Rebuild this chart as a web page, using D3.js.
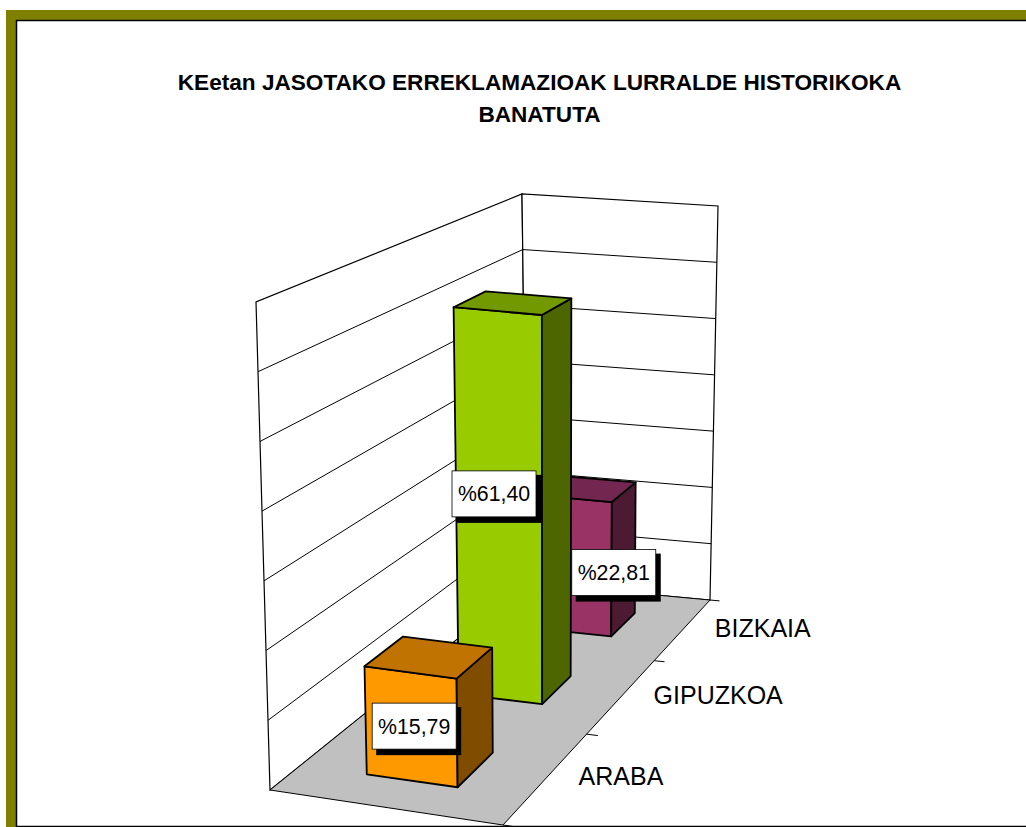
<!DOCTYPE html>
<html>
<head>
<meta charset="utf-8">
<script src="https://cdn.jsdelivr.net/npm/d3@7"></script>
<style>
html, body { margin: 0; padding: 0; background: #fff; overflow: hidden; }
text { font-family: "Liberation Sans", Arial, sans-serif; fill: #000; }
</style>
</head>
<body>
<div id="chart"></div>
<script>
const categories = ["ARABA", "GIPUZKOA", "BIZKAIA"];
const values = [15.79, 61.40, 22.81];
const frontColors = ["#ff9900", "#99cc00", "#993366"];
const topColors = ["#c07300", "#739900", "#732650"];
const sideColors = ["#804d00", "#4d6600", "#4d1a33"];
const titleLines = ["KEetan JASOTAKO ERREKLAMAZIOAK LURRALDE HISTORIKOKA", "BANATUTA"];
const valueTicks = [0, 10, 20, 30, 40, 50, 60, 70];

const width = 1026;
const height = 827;

// the box of the 3d chart as it lands on screen: a = front left, b = front right, c = back right, d = back left
const floorQuad = { a: [270, 790], b: [503, 825], c: [710, 600], d: [527, 583] };
const ceilQuad = { a: [256, 302], b: [503, 329], c: [718, 206], d: [522, 194] };

// unit square to quad, so depth shrinks like it does in the picture
function quadMap(q) {
  const dx1 = q.b[0] - q.c[0], dx2 = q.d[0] - q.c[0], sx = q.a[0] - q.b[0] + q.c[0] - q.d[0];
  const dy1 = q.b[1] - q.c[1], dy2 = q.d[1] - q.c[1], sy = q.a[1] - q.b[1] + q.c[1] - q.d[1];
  const det = dx1 * dy2 - dx2 * dy1;
  const g = (sx * dy2 - dx2 * sy) / det;
  const h = (dx1 * sy - sx * dy1) / det;
  const ma = q.b[0] - q.a[0] + g * q.b[0], mb = q.d[0] - q.a[0] + h * q.d[0];
  const md = q.b[1] - q.a[1] + g * q.b[1], me = q.d[1] - q.a[1] + h * q.d[1];
  return (u, v) => {
    const w = g * u + h * v + 1;
    return [(ma * u + mb * v + q.a[0]) / w, (md * u + me * v + q.a[1]) / w];
  };
}

const floorAt = quadMap(floorQuad);
const ceilAt = quadMap(ceilQuad);

const heightScale = d3.scaleLinear().domain([0, 70]).range([0, 1]);
const depthScale = d3.scaleBand().domain(categories).range([-0.008, 0.992]).paddingInner(0.61).paddingOuter(0.305);
const depthStep = d3.scaleBand().domain(categories).range([0, 1]);
const acrossScale = d3.scaleLinear().domain([0, 1]).range([0.30, 0.70]);

// u across, v depth, value up
function project(u, v, value) {
  const t = heightScale(value);
  const p = floorAt(u, v), q = ceilAt(u, v);
  return [p[0] + (q[0] - p[0]) * t, p[1] + (q[1] - p[1]) * t];
}

const line = d3.line();
const polygon = pts => line(pts) + "Z";

const svg = d3.select("#chart").append("svg")
  .attr("width", width)
  .attr("height", height)
  .style("display", "block");

// olive frame
svg.append("path")
  .attr("d", `M6,${height}V10H${width}V20H16V${height}Z`)
  .attr("fill", "#808000");
svg.append("path")
  .attr("d", `M16.5,${height}V20.5H${width}`)
  .attr("fill", "none")
  .attr("stroke", "#000")
  .attr("stroke-width", 1.5);
svg.append("line")
  .attr("x1", 16).attr("x2", width)
  .attr("y1", 826.5).attr("y2", 826.5)
  .attr("stroke", "#000")
  .attr("stroke-width", 1.5);

svg.append("g")
  .selectAll("text")
  .data(titleLines)
  .join("text")
  .attr("x", 539.5)
  .attr("y", (d, i) => 90 + i * 32)
  .attr("text-anchor", "middle")
  .attr("font-size", 22.6)
  .attr("font-weight", "bold")
  .text(d => d);

// walls
const leftWall = [project(0, 0, 0), project(0, 0, 70), project(0, 1, 70), project(0, 1, 0)];
const backWall = [project(0, 1, 0), project(0, 1, 70), project(1, 1, 70), project(1, 1, 0)];
svg.append("g")
  .selectAll("path")
  .data([leftWall, backWall])
  .join("path")
  .attr("d", polygon)
  .attr("fill", "#fff")
  .attr("stroke", "#000")
  .attr("stroke-width", 1.2);

// gridlines run along both walls
svg.append("g")
  .selectAll("path")
  .data(valueTicks.slice(1, -1))
  .join("path")
  .attr("d", d => line([project(0, 0, d), project(0, 1, d), project(1, 1, d)]))
  .attr("fill", "none")
  .attr("stroke", "#000")
  .attr("stroke-width", 1);

svg.append("path")
  .attr("d", polygon([project(0, 0, 0), project(1, 0, 0), project(1, 1, 0), project(0, 1, 0)]))
  .attr("fill", "#c0c0c0")
  .attr("stroke", "#000")
  .attr("stroke-width", 1);

// depth axis ticks
const tickStops = [0].concat(categories.map(c => depthStep(c) + depthStep.bandwidth()));
svg.append("g")
  .selectAll("path")
  .data(tickStops)
  .join("path")
  .attr("d", d => line([project(1, d, 0), project(1.05, d, 0)]))
  .attr("stroke", "#000")
  .attr("stroke-width", 1);

svg.append("g")
  .selectAll("text")
  .data(categories)
  .join("text")
  .attr("x", d => project(1, depthStep(d) + depthStep.bandwidth() / 2, 0)[0] + 31.5)
  .attr("y", d => project(1, depthStep(d) + depthStep.bandwidth() / 2, 0)[1] + 8)
  .attr("font-size", 25)
  .text(d => d);

// bars, back one first
const order = d3.range(categories.length).reverse();
const bars = svg.append("g");
order.forEach(i => {
  const v0 = depthScale(categories[i]);
  const v1 = v0 + depthScale.bandwidth();
  const u0 = acrossScale(0), u1 = acrossScale(1);
  const val = values[i];
  const g = bars.append("g")
    .attr("stroke", "#000")
    .attr("stroke-width", 1.8)
    .attr("stroke-linejoin", "round");
  g.append("path")
    .attr("d", polygon([project(u0, v0, 0), project(u1, v0, 0), project(u1, v0, val), project(u0, v0, val)]))
    .attr("fill", frontColors[i]);
  g.append("path")
    .attr("d", polygon([project(u1, v0, 0), project(u1, v1, 0), project(u1, v1, val), project(u1, v0, val)]))
    .attr("fill", sideColors[i]);
  g.append("path")
    .attr("d", polygon([project(u0, v0, val), project(u1, v0, val), project(u1, v1, val), project(u0, v1, val)]))
    .attr("fill", topColors[i]);
});

// data labels with the hard black shadow
const labelW = 84, labelH = 46;
const labelNudge = [[-15.5, 16], [-20, 0], [29, 18]];
const fmt = d3.format(".2f");
const labels = svg.append("g");
categories.forEach((c, i) => {
  const center = project(acrossScale(0.5), depthScale(c) + depthScale.bandwidth() / 2, values[i] / 2);
  const x = center[0] + labelNudge[i][0] - labelW / 2;
  const y = center[1] + labelNudge[i][1] - labelH / 2;
  labels.append("rect")
    .attr("x", x + 4).attr("y", y + 4)
    .attr("width", labelW + 1).attr("height", labelH + 2)
    .attr("fill", "#000");
  labels.append("rect")
    .attr("x", x).attr("y", y)
    .attr("width", labelW).attr("height", labelH)
    .attr("fill", "#fff")
    .attr("stroke", "#000")
    .attr("stroke-width", 0.8);
  labels.append("text")
    .attr("x", x + labelW / 2)
    .attr("y", y + labelH / 2 + 7.5)
    .attr("text-anchor", "middle")
    .attr("font-size", 21.3)
    .text("%" + fmt(values[i]).replace(".", ","));
});
</script>
</body>
</html>
